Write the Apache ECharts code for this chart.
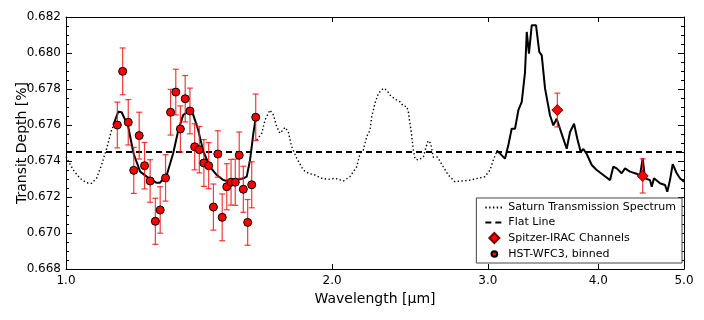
<!DOCTYPE html>
<html>
<head>
<meta charset="utf-8">
<script src="https://cdn.jsdelivr.net/npm/echarts@6/dist/echarts.min.js"></script>
<style>
html,body{margin:0;padding:0;background:#fff;}
#chart{width:704px;height:320px;}
</style>
</head>
<body>
<div id="chart"></div>
<script>
// tick labels
var xTicks = [1.0, 2.0, 3.0, 4.0, 5.0];
var flatLevel = 0.6745;

// Saturn transmission spectrum (dotted)
var saturnLeftWl = [1.000, 1.019, 1.037, 1.055, 1.069, 1.083, 1.097, 1.112, 1.126, 1.136];
var saturnLeftDepth = [0.67424, 0.67350, 0.67304, 0.67279, 0.67276, 0.67304, 0.67378, 0.67471, 0.67572, 0.67618];
var saturnMidWl = [1.643, 1.665, 1.679, 1.701, 1.716, 1.731, 1.746, 1.769, 1.784, 1.800, 1.824, 1.855, 1.880, 1.913, 1.946, 1.980, 2.015, 2.059, 2.095, 2.132, 2.151, 2.169, 2.188, 2.207, 2.217, 2.236, 2.256, 2.285, 2.305, 2.325, 2.356, 2.387, 2.407, 2.429, 2.439, 2.460, 2.471, 2.482, 2.503, 2.536, 2.554, 2.569, 2.585, 2.603, 2.631, 2.671, 2.706, 2.754, 2.803, 2.864, 2.926, 2.978, 3.017, 3.043, 3.070];
var saturnMidDepth = [0.67517, 0.67554, 0.67628, 0.67683, 0.67656, 0.67591, 0.67554, 0.67587, 0.67563, 0.67479, 0.67415, 0.67350, 0.67332, 0.67322, 0.67304, 0.67298, 0.67304, 0.67289, 0.67313, 0.67368, 0.67443, 0.67461, 0.67535, 0.67572, 0.67646, 0.67721, 0.67776, 0.67804, 0.67794, 0.67767, 0.67744, 0.67728, 0.67706, 0.67703, 0.67672, 0.67544, 0.67461, 0.67411, 0.67406, 0.67421, 0.67479, 0.67513, 0.67498, 0.67421, 0.67422, 0.67368, 0.67322, 0.67285, 0.67289, 0.67294, 0.67304, 0.67313, 0.67350, 0.67406, 0.67452];

// binned spectrum over the HST band (solid)
var hstModelWl = [1.131, 1.146, 1.156, 1.176, 1.192, 1.213, 1.234, 1.266, 1.277, 1.300, 1.322, 1.340, 1.357, 1.375, 1.393, 1.411, 1.430, 1.455, 1.481, 1.506, 1.533, 1.587, 1.601, 1.615, 1.629, 1.640];
var hstModelDepth = [0.67600, 0.67674, 0.67671, 0.67591, 0.67443, 0.67341, 0.67313, 0.67279, 0.67279, 0.67322, 0.67443, 0.67572, 0.67656, 0.67674, 0.67656, 0.67572, 0.67452, 0.67368, 0.67322, 0.67294, 0.67285, 0.67304, 0.67313, 0.67406, 0.67554, 0.67646];

// spectrum over the Spitzer band (solid)
var irModelWl = [3.070, 3.097, 3.137, 3.164, 3.192, 3.220, 3.248, 3.277, 3.305, 3.320, 3.339, 3.363, 3.401, 3.430, 3.452, 3.482, 3.527, 3.558, 3.589, 3.620, 3.651, 3.684, 3.716, 3.755, 3.787, 3.821, 3.847, 3.881, 3.932, 3.983, 4.052, 4.124, 4.159, 4.196, 4.251, 4.288, 4.344, 4.401, 4.459, 4.490, 4.517, 4.576, 4.597, 4.624, 4.697, 4.759, 4.787, 4.821, 4.855, 4.906, 4.948, 5.000];
var irModelDepth = [0.67459, 0.67441, 0.67413, 0.67487, 0.67579, 0.67579, 0.67682, 0.67728, 0.67894, 0.68117, 0.67996, 0.68154, 0.68154, 0.68006, 0.67987, 0.67802, 0.67654, 0.67598, 0.67635, 0.67579, 0.67524, 0.67468, 0.67561, 0.67607, 0.67524, 0.67450, 0.67467, 0.67439, 0.67378, 0.67350, 0.67322, 0.67294, 0.67368, 0.67359, 0.67332, 0.67359, 0.67341, 0.67332, 0.67322, 0.67415, 0.67304, 0.67294, 0.67257, 0.67304, 0.67276, 0.67267, 0.67229, 0.67294, 0.67383, 0.67332, 0.67304, 0.67285];

// HST-WFC3 binned points
var hstWl = [1.143, 1.159, 1.176, 1.193, 1.210, 1.227, 1.245, 1.262, 1.278, 1.296, 1.313, 1.331, 1.347, 1.364, 1.381, 1.398, 1.415, 1.432, 1.450, 1.468, 1.485, 1.502, 1.520, 1.537, 1.554, 1.570, 1.587, 1.605, 1.622, 1.639];
var hstDepth = [0.67600, 0.67898, 0.67615, 0.67348, 0.67541, 0.67374, 0.67289, 0.67065, 0.67128, 0.67306, 0.67671, 0.67783, 0.67578, 0.67746, 0.67678, 0.67479, 0.67463, 0.67389, 0.67374, 0.67144, 0.67439, 0.67087, 0.67257, 0.67282, 0.67282, 0.67432, 0.67243, 0.67059, 0.67268, 0.67643];
var hstErr = [0.00127, 0.00130, 0.00126, 0.00128, 0.00130, 0.00129, 0.00118, 0.00128, 0.00129, 0.00129, 0.00127, 0.00127, 0.00128, 0.00129, 0.00127, 0.00128, 0.00129, 0.00130, 0.00128, 0.00128, 0.00129, 0.00130, 0.00128, 0.00127, 0.00128, 0.00129, 0.00128, 0.00127, 0.00128, 0.00129];

// Spitzer-IRAC channels
var iracWl = [3.595, 4.490];
var iracDepth = [0.67683, 0.67317];
var iracErr = [0.00094, 0.00095];

function pairs(xs, ys) {
    return xs.map(function (x, i) { return [x, ys[i]]; });
}
function withErr(xs, ys, es) {
    return xs.map(function (x, i) { return [x, ys[i], es[i]]; });
}

function renderErrorBar(params, api) {
    var x = api.value(0), y = api.value(1), e = api.value(2);
    var top = api.coord([x, y + e]);
    var bot = api.coord([x, y - e]);
    var cap = 3;
    var style = { stroke: '#f01818', lineWidth: 1.2, opacity: 0.85 };
    return {
        type: 'group',
        children: [
            { type: 'line', shape: { x1: top[0], y1: top[1], x2: bot[0], y2: bot[1] }, style: style },
            { type: 'line', shape: { x1: top[0] - cap, y1: top[1], x2: top[0] + cap, y2: top[1] }, style: style },
            { type: 'line', shape: { x1: bot[0] - cap, y1: bot[1], x2: bot[0] + cap, y2: bot[1] }, style: style }
        ]
    };
}

var fontFam = '"DejaVu Sans", sans-serif';
var frameLine = { show: true, onZero: false, lineStyle: { color: '#000', width: 1 } };
var diamondIcon = 'path://M0,-1L1,0L0,1L-1,0Z';
// circle drawn a bit smaller than the diamond inside the same legend box
var circleIcon = 'path://M-1.4,-1.4M1.4,1.4M-0.8,0A0.8,0.8 0 1,0 0.8,0A0.8,0.8 0 1,0 -0.8,0Z';

var myChart = echarts.init(document.getElementById('chart'), null, { renderer: 'canvas' });

var option = {
    animation: false,
    backgroundColor: '#fff',
    textStyle: { fontFamily: fontFam, color: '#000' },
    grid: { left: 66, right: 20, top: 17, bottom: 51, containLabel: false, outerBoundsMode: 'none' },
    legend: {
        orient: 'vertical',
        right: 22,
        top: 198,
        itemWidth: 18,
        itemHeight: 10,
        itemGap: 4,
        padding: [4, 6, 3, 8],
        borderColor: '#444',
        borderWidth: 1,
        borderRadius: 0,
        backgroundColor: '#fff',
        symbolKeepAspect: true,
        textStyle: { fontFamily: fontFam, fontSize: 11, color: '#000' },
        data: [
            { name: 'Saturn Transmission Spectrum', itemStyle: { opacity: 0 } },
            { name: 'Flat Line', itemStyle: { opacity: 0 } },
            { name: 'Spitzer-IRAC Channels', icon: diamondIcon },
            { name: 'HST-WFC3, binned', icon: circleIcon }
        ]
    },
    xAxis: [
        {
            type: 'log',
            min: 1,
            max: 5,
            position: 'bottom',
            name: 'Wavelength [μm]',
            nameLocation: 'middle',
            nameGap: 21,
            nameTextStyle: { fontFamily: fontFam, fontSize: 14, color: '#000' },
            axisLine: frameLine,
            axisTick: { show: true, inside: true, length: 5, customValues: xTicks, lineStyle: { color: '#000' } },
            axisLabel: { show: true, customValues: xTicks, margin: 6, fontSize: 12, color: '#000', fontFamily: fontFam,
                formatter: function (v) { return Number(v).toFixed(1); } },
            splitLine: { show: false },
            minorTick: { show: false }
        },
        {
            type: 'log',
            min: 1,
            max: 5,
            position: 'top',
            axisLine: frameLine,
            axisTick: { show: true, inside: true, length: 5, customValues: xTicks, lineStyle: { color: '#000' } },
            axisLabel: { show: false },
            splitLine: { show: false }
        }
    ],
    yAxis: [
        {
            type: 'value',
            min: 0.668,
            max: 0.682,
            interval: 0.002,
            position: 'left',
            name: 'Transit Depth [%]',
            nameLocation: 'middle',
            nameGap: 37,
            nameMoveOverlap: false,
            nameTextStyle: { fontFamily: fontFam, fontSize: 14, color: '#000' },
            axisLine: frameLine,
            axisTick: { show: true, inside: true, length: 6, lineStyle: { color: '#000' } },
            minorTick: { show: true, splitNumber: 4, length: 3, lineStyle: { color: '#000' } },
            axisLabel: { fontSize: 12, color: '#000', fontFamily: fontFam, margin: 5,
                formatter: function (v) { return v.toFixed(3); } },
            splitLine: { show: false }
        },
        {
            type: 'value',
            min: 0.668,
            max: 0.682,
            interval: 0.002,
            position: 'right',
            axisLine: frameLine,
            axisTick: { show: true, inside: true, length: 6, lineStyle: { color: '#000' } },
            minorTick: { show: true, splitNumber: 4, length: 3, lineStyle: { color: '#000' } },
            axisLabel: { show: false },
            splitLine: { show: false }
        }
    ],
    series: [
        {
            name: 'Saturn Transmission Spectrum',
            type: 'line',
            symbol: 'none',
            connectNulls: false,
            data: pairs(saturnLeftWl, saturnLeftDepth).concat([[1.4, null]]).concat(pairs(saturnMidWl, saturnMidDepth)),
            lineStyle: { color: '#000', width: 1.4, type: [1.4, 2.4] },
            itemStyle: { color: '#000' },
            z: 2
        },
        {
            name: 'Flat Line',
            type: 'line',
            symbol: 'none',
            data: [[xTicks[0], flatLevel], [xTicks[xTicks.length - 1], flatLevel]],
            lineStyle: { color: '#000', width: 2, type: [6, 4] },
            itemStyle: { color: '#000' },
            z: 3
        },
        {
            name: 'HST model',
            type: 'line',
            symbol: 'none',
            data: pairs(hstModelWl, hstModelDepth),
            lineStyle: { color: '#000', width: 2 },
            z: 4
        },
        {
            name: 'IRAC model',
            type: 'line',
            symbol: 'none',
            data: pairs(irModelWl, irModelDepth),
            lineStyle: { color: '#000', width: 2 },
            z: 4
        },
        {
            name: 'HST err',
            type: 'custom',
            renderItem: renderErrorBar,
            data: withErr(hstWl, hstDepth, hstErr),
            z: 5
        },
        {
            name: 'IRAC err',
            type: 'custom',
            renderItem: renderErrorBar,
            data: withErr(iracWl, iracDepth, iracErr),
            z: 5
        },
        {
            name: 'Spitzer-IRAC Channels',
            type: 'scatter',
            symbol: 'diamond',
            symbolSize: 11,
            data: pairs(iracWl, iracDepth),
            itemStyle: { color: '#ff0000', borderColor: '#700', borderWidth: 1, opacity: 1 },
            z: 6
        },
        {
            name: 'HST-WFC3, binned',
            type: 'scatter',
            symbol: 'circle',
            symbolSize: 8,
            data: pairs(hstWl, hstDepth),
            itemStyle: { color: '#ff0000', borderColor: '#000', borderWidth: 1, opacity: 1 },
            z: 6
        }
    ]
};

myChart.setOption(option);
window.onresize = myChart.resize;
</script>
</body>
</html>
